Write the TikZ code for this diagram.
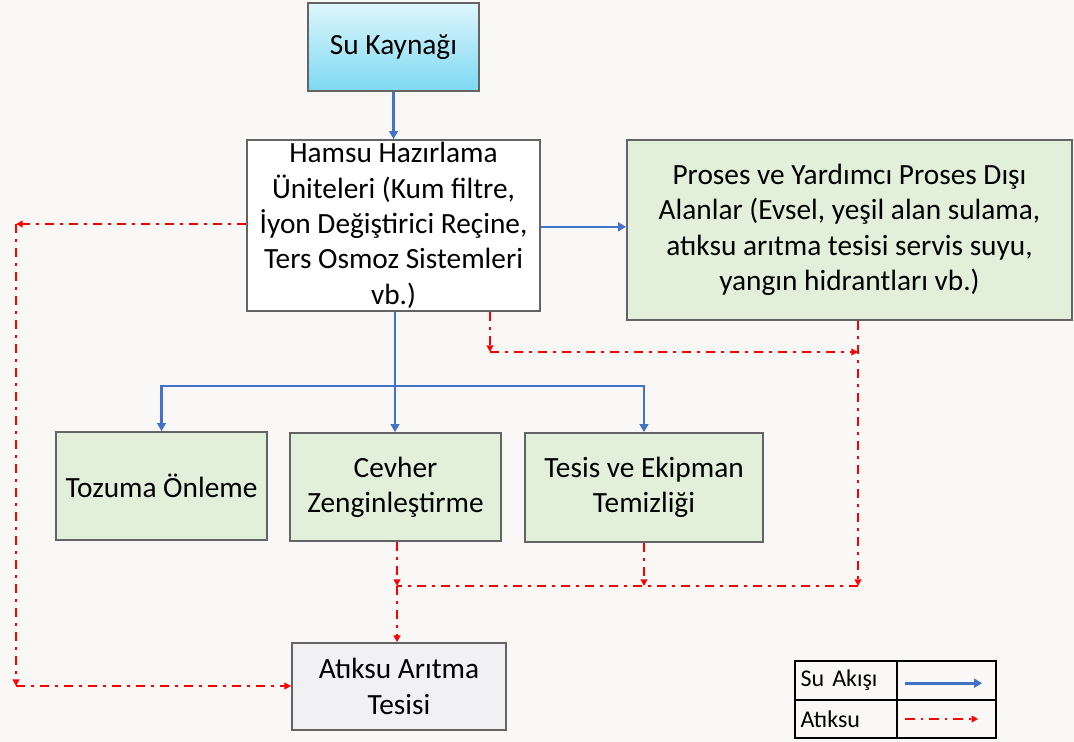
\documentclass[tikz,border=0pt]{standalone}
\usepackage{fontspec}
\setmainfont{Carlito}
\usetikzlibrary{arrows.meta}

\definecolor{bgcol}{RGB}{249,248,246}
\definecolor{flowblue}{RGB}{68,114,196}
\definecolor{wastered}{RGB}{255,0,0}
\definecolor{boxgreen}{RGB}{226,239,218}
\definecolor{boxgrey}{RGB}{241,241,243}
\definecolor{edgegrey}{RGB}{100,100,100}
\definecolor{cyantop}{RGB}{222,246,252}
\definecolor{cyanbot}{RGB}{125,217,242}

\tikzset{every picture/.style={line width=0.75pt}}
\tikzset{
  flowbox/.style={draw=edgegrey,line width=1.3pt,align=center,inner sep=0.75pt,
    font=\fontsize{22}{26.5}\selectfont},
  water/.style={draw=flowblue,line width=2pt,-{Triangle[length=6pt,width=6.5pt]}},
  waterline/.style={draw=flowblue,line width=2pt},
  waste/.style={draw=wastered,line width=1.7pt,
    dash pattern=on 7pt off 4.5pt on 2pt off 4.5pt,-{Triangle[length=5pt,width=5pt]}},
  wasteline/.style={draw=wastered,line width=1.7pt,
    dash pattern=on 7pt off 4.5pt on 2pt off 4.5pt},
  legcell/.style={draw=black,line width=1.3pt,inner sep=0pt,minimum height=29pt,
    font=\fontsize{18}{21}\selectfont}
}

\begin{document}
\begin{tikzpicture}[x=0.75pt,y=0.75pt,yscale=-1,xscale=1]
% Background
\fill[bgcol] (0,0) rectangle (1074,742);
\useasboundingbox (0,0) rectangle (1074,742);

% Boxes
\node[flowbox,top color=cyantop,bottom color=cyanbot,minimum width=128.25pt,minimum height=66pt] (su) at (393.5,47) {Su Kaynağı};
\node[flowbox,fill=white,minimum width=219.75pt,minimum height=128.25pt] (hamsu) at (393.5,225.5) {Hamsu Hazırlama\\Üniteleri (Kum filtre,\\İyon Değiştirici Reçine,\\Ters Osmoz Sistemleri\\vb.)};
\node[flowbox,fill=boxgreen,minimum width=333.75pt,minimum height=135pt] (proses) at (849.5,230) {Proses ve Yardımcı Proses Dışı\\Alanlar (Evsel, yeşil alan sulama,\\atıksu arıtma tesisi servis suyu,\\yangın hidrantları vb.)};
\node[flowbox,fill=boxgreen,minimum width=158.25pt,minimum height=81pt] (tozuma) at (161.5,486) {Tozuma Önleme};
\node[flowbox,fill=boxgreen,minimum width=158.25pt,minimum height=81pt] (cevher) at (395.5,487) {Cevher\\Zenginleştirme};
\node[flowbox,fill=boxgreen,minimum width=178.5pt,minimum height=81.75pt] (tesis) at (644,487.5) {Tesis ve Ekipman\\Temizliği};
\node[flowbox,fill=boxgrey,minimum width=160.5pt,minimum height=65.25pt] (aritma) at (399,686.5) {Atıksu Arıtma\\Tesisi};

% Water flow
\coordinate (bus) at (395,386);
\draw[water] (su.south) -- (hamsu.north);
\draw[water] ([yshift=1pt]hamsu.east) -- ([yshift=1pt]hamsu.east -| proses.west);
\draw[waterline] (hamsu.south -| bus) -- (bus);
\draw[water] (bus) -| (tozuma.north);
\draw[water] (bus) -| (tesis.north);
\draw[water] (bus) -- (bus |- cevher.north);

% Waste water
\coordinate (wl) at (16,224);
\coordinate (wb) at (16,686);
\draw[waste] (hamsu.west |- wl) -- (wl);
\draw[waste] (wl) -- (wb);
\draw[waste] (wb) -- (wb -| aritma.west);
\coordinate (wh) at (490,352);
\coordinate (wp) at (858,352);
\draw[waste] (wh |- hamsu.south) -- (wh);
\draw[waste] (wh) -- (wp);
\coordinate (wr) at (858,586);
\coordinate (wc) at (397,586);
\coordinate (wt) at (644,586);
\draw[waste] (wr |- proses.south) -- (wr);
\draw[wasteline] (wr) -- (wc);
\draw[waste] (wc |- cevher.south) -- (wc);
\draw[waste] (wt |- tesis.south) -- (wt);
\draw[waste] (wc) -- (wc |- aritma.north);

% Legend
\node[legcell,minimum width=76.5pt,text width=68pt,align=left] (lg1) at (846,680.5) {Su Akışı};
\node[legcell,minimum width=74.25pt] (lgs1) at (946.5,680.5) {};
\node[legcell,minimum width=76.5pt,minimum height=28.5pt,text width=68pt,align=left] (lg2) at (846,719) {Atıksu};
\node[legcell,minimum width=74.25pt,minimum height=28.5pt] (lgs2) at (946.5,719) {};
\draw[water] ([xshift=7pt,yshift=2pt]lgs1.west) -- ([xshift=-11pt,yshift=2pt]lgs1.east);
\draw[waste] ([xshift=7pt]lgs2.west) -- ([xshift=-14pt]lgs2.east);
\end{tikzpicture}
\end{document}
